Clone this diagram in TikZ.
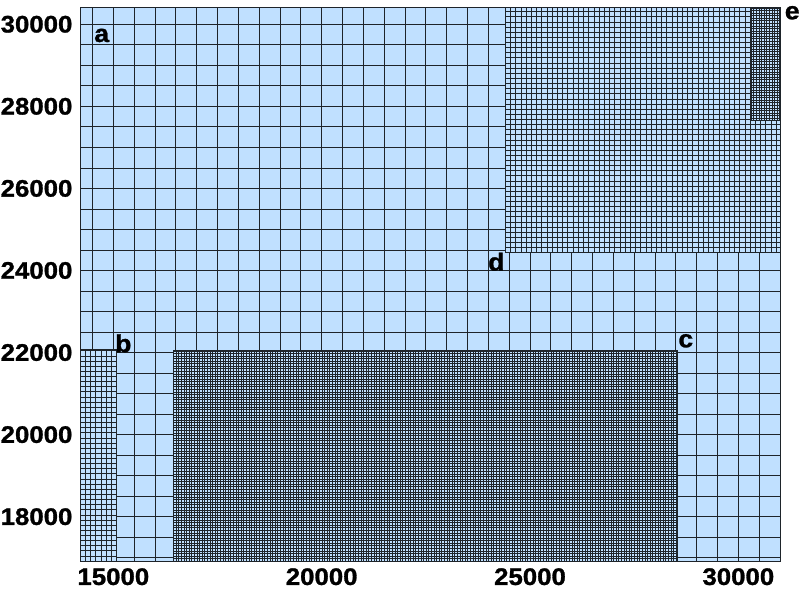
\documentclass[tikz,border=0pt]{standalone}
\usepackage{fontspec}
\setsansfont{Liberation Sans}[FakeStretch=1.08, BoldFeatures={FakeBold=1.2}]
\usepackage{tikz}

\definecolor{cellblue}{RGB}{192,224,255}
\definecolor{gridline}{RGB}{30,36,42}

\begin{document}
\begin{tikzpicture}[x=1.04167cm, y=1.02583cm,
	coarse/.style={gridline, line width=0.55pt},
	fine/.style={gridline, line width=0.45pt},
	finest/.style={gridline, line width=0.27pt},
	patch/.style={fill=cellblue, draw=gridline, line width=0.55pt},
	tick/.style={inner sep=0pt, font=\sffamily\bfseries\fontsize{17}{17}\selectfont},
	lbl/.style={inner sep=0pt, font=\sffamily\bfseries\fontsize{17.5}{17.5}\selectfont}]
	
	\useasboundingbox (12.28, 16.189) rectangle (31.48, 30.592);
	
	% LEVEL 0 (a)
	\fill[cellblue] (14.2, 16.92) rectangle (31.02, 30.4);
	\draw[coarse, step=0.5] (14.2, 16.92) grid (31.02, 30.4);
	\draw[coarse] (14.2, 16.92) rectangle (31.02, 30.4);
	
	% LEVEL 1 patches (b, d)
	\begin{scope}[shift={(14.2, 16.92)}]
	\draw[patch] (0, 0) rectangle (0.88, 5.167);
	\draw[fine, step=0.125] (0, 0) grid (0.88, 5.167);
	\end{scope}
	
	\begin{scope}[shift={(24.407, 24.433)}]
	\draw[patch] (0, 0) rectangle (6.613, 5.967);
	\draw[fine, step=0.125] (0, 0) grid (6.613, 5.967);
	\end{scope}
	
	% LEVEL 2 patches (c, e)
	\begin{scope}[shift={(16.44, 16.92)}]
	\draw[patch] (0, 0) rectangle (12.095, 5.14);
	\draw[finest, step=0.0625] (0, 0) grid (12.095, 5.14);
	\end{scope}
	
	\begin{scope}[shift={(30.304, 27.65)}]
	\draw[patch] (0, 0) rectangle (0.716, 2.75);
	\draw[finest, line width=0.36pt, step=0.0625] (0, 0) grid (0.716, 2.75);
	\end{scope}
	
	% ticks (in units of 1000)
	\foreach \x in {15, 20, 25, 30}
	\node[tick] (x\x) at (\x, 16.537) {\x000};
	\foreach \y in {18, 20, ..., 30}
	\node[tick, anchor=east] (y\y) at (14.025, \y) {\y000};
	
	% patch labels
	\node[lbl] (a) at (14.721, 29.727) {a};
	\node[lbl] (b) at (15.239, 22.225) {b};
	\node[lbl] (c) at (28.739, 22.286) {c};
	\node[lbl] (d) at (24.191, 24.214) {d};
	\node[lbl] (e) at (31.293, 30.28) {e};
	
\end{tikzpicture}
\end{document}
